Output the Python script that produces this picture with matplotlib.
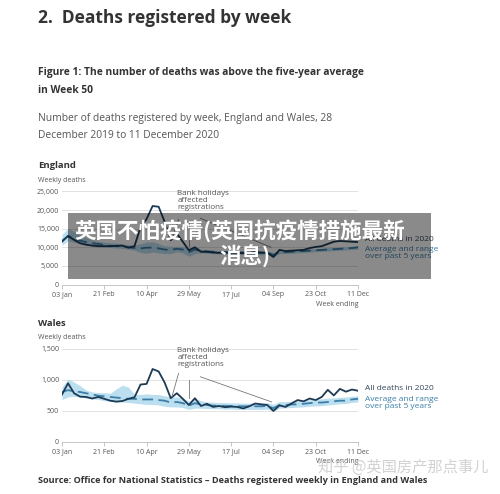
import matplotlib
matplotlib.use("Agg")
import matplotlib.pyplot as plt
import matplotlib.patches as patches

# --- Dados (semanas 1..50 de 2020) ---
weeks = list(range(1, 51))
tick_weeks = [1, 8, 15, 22, 29, 36, 43, 50]
tick_labels = ["03 Jan", "21 Feb", "10 Apr", "29 May", "17 Jul", "04 Sep", "23 Oct", "11 Dec"]

eng_2020 = [11500, 13100, 12000, 11100, 10700, 10450, 10300, 10300, 10300, 10400,
            10450, 9900, 10300, 15400, 17600, 21100, 20900, 16800, 11900, 13700,
            11500, 9200, 10000, 8800, 8800, 8600, 8500, 8600, 8500, 8500,
            8400, 8500, 8700, 8600, 8500, 7400, 9300, 9000, 9100, 9200,
            9300, 9800, 10100, 10300, 10900, 11500, 11700, 11600, 11500, 11400]
eng_avg = [11800, 12900, 12300, 11800, 11400, 11100, 10900, 10600, 10400, 10300,
           10200, 10000, 9800, 9700, 9900, 9900, 9700, 9400, 9300, 9600,
           9400, 8700, 9400, 9000, 8900, 8800, 8700, 8700, 8600, 8600,
           8600, 8500, 8600, 8500, 8600, 7900, 8800, 8700, 8800, 8900,
           9000, 9100, 9200, 9300, 9400, 9500, 9600, 9700, 9800, 10000]
eng_min = [10500, 11800, 11300, 11000, 10700, 10400, 10200, 10000, 9900, 9800,
           9700, 9500, 9200, 8600, 8400, 8700, 8500, 8300, 8300, 8800,
           8500, 7600, 8300, 8500, 8400, 8300, 8200, 8200, 8100, 8100,
           8100, 8000, 8100, 8000, 8100, 7400, 8300, 8300, 8400, 8500,
           8600, 8700, 8800, 8900, 9000, 9100, 9200, 9300, 9400, 9500]
eng_max = [13500, 15000, 14300, 13300, 12600, 12000, 11600, 11400, 11200, 11100,
           10900, 10700, 10600, 11000, 11400, 11500, 11000, 10400, 10300, 10300,
           10200, 9800, 10200, 9500, 9300, 9200, 9100, 9100, 9000, 9000,
           9000, 8900, 9000, 8900, 9000, 8600, 9300, 9200, 9300, 9400,
           9500, 9600, 9700, 9800, 9900, 10000, 10100, 10200, 10300, 10500]

wal_2020 = [760, 940, 780, 725, 720, 695, 720, 690, 660, 645,
            655, 690, 715, 920, 930, 1170, 1130, 950, 700, 780,
            690, 590, 700, 575, 610, 560, 575, 555, 565, 560,
            535, 570, 615, 600, 590, 495, 585, 560, 615, 670,
            650, 695, 670, 720, 835, 745, 850, 805, 840, 820]
wal_avg = [800, 830, 810, 800, 780, 760, 740, 730, 720, 710,
           700, 690, 690, 680, 680, 680, 670, 660, 630, 640,
           620, 580, 620, 600, 590, 580, 580, 575, 575, 570,
           570, 570, 570, 570, 575, 540, 590, 590, 600, 600,
           610, 620, 630, 630, 640, 650, 660, 660, 680, 690]
wal_min = [680, 720, 730, 720, 700, 690, 680, 660, 650, 640,
           640, 630, 620, 610, 600, 600, 590, 570, 560, 560,
           550, 520, 540, 540, 535, 530, 530, 525, 525, 520,
           520, 520, 520, 520, 525, 490, 540, 545, 550, 555,
           560, 570, 575, 580, 590, 600, 610, 615, 630, 640]
wal_max = [880, 1010, 960, 900, 830, 800, 790, 790, 780, 850,
           910, 880, 760, 760, 770, 760, 760, 740, 720, 720,
           700, 650, 700, 660, 640, 635, 630, 630, 625, 625,
           620, 620, 625, 625, 630, 600, 645, 645, 650, 655,
           665, 675, 685, 690, 700, 705, 715, 720, 730, 740]

# --- Estilo ---
FONT = "Open Sans"
C_LINE = "#1d3a55"
C_AVG = "#3b7fa8"
C_BAND = "#b5dcef"
C_TXT = "#555555"
C_DARK = "#333333"

plt.rcParams['font.family'] = [FONT, 'Noto Sans CJK SC', 'DejaVu Sans']

W, H = 500, 494
fig = plt.figure(figsize=(W / 100, H / 100), dpi=100)


def fx(x):
    return x / W


def fy(y):
    return 1 - y / H


def draw_panel(ax, s2020, avg, lo, hi, ymax, ystep, note_top, arrows):
    ax.fill_between(weeks, lo, hi, color=C_BAND, lw=0, alpha=0.9, zorder=1)
    ax.plot(weeks, avg, color=C_AVG, lw=1.3, dashes=(6, 3), zorder=2)
    ax.plot(weeks, s2020, color=C_LINE, lw=1.3, zorder=3)
    ax.set_xlim(1, 50)
    ax.set_ylim(0, ymax)
    yt = list(range(0, ymax + 1, ystep))
    ax.set_yticks(yt)
    ax.set_yticklabels([f"{v:,}" for v in yt])
    ax.set_xticks(tick_weeks)
    ax.set_xticklabels(tick_labels)
    ax.grid(axis='y', color='#dddddd', lw=0.6)
    ax.set_axisbelow(True)
    for s in ['top', 'right', 'left']:
        ax.spines[s].set_visible(False)
    ax.spines['bottom'].set_color('#bbbbbb')
    ax.spines['bottom'].set_linewidth(0.6)
    ax.tick_params(axis='y', length=0, labelsize=5, labelcolor=C_TXT, pad=2)
    ax.tick_params(axis='x', length=3, width=0.6, color='#bbbbbb',
                   labelsize=5, labelcolor=C_TXT, pad=2)
    ax.text(20.1, note_top, "Bank holidays\naffected\nregistrations", fontsize=5.8,
            color=C_TXT, va='top', ha='left', linespacing=0.95)
    for (x0, y0), (x1, y1) in arrows:
        ax.plot([x0, x1], [y0, y1], color='#777777', lw=0.6, zorder=4)


# Inglaterra
ax1 = fig.add_axes([fx(62), fy(284.5), 296 / W, 93 / H])
draw_panel(ax1, eng_2020, eng_avg, eng_min, eng_max, 25000, 5000, 25300,
           [((20.3, 17500), (19.3, 12700)),
            ((22.1, 16500), (22.1, 10300)),
            ((23.9, 17800), (35.6, 10000))])

# País de Gales
ax2 = fig.add_axes([fx(62), fy(441.7), 296 / W, 93.2 / H])
draw_panel(ax2, wal_2020, wal_avg, wal_min, wal_max, 1500, 500, 1520,
           [((20.3, 1100), (19.2, 725)),
            ((22.1, 990), (22.1, 700)),
            ((23.9, 1045), (35.7, 640))])

# --- Textos ---
fig.text(fx(38), fy(18), "2.  Deaths registered by week", fontsize=12.5, weight='bold',
         color=C_DARK, va='center')
fig.text(fx(38), fy(72), "Figure 1: The number of deaths was above the five-year average",
         fontsize=7.4, weight='bold', color=C_DARK, va='center')
fig.text(fx(38), fy(90), "in Week 50", fontsize=7.4, weight='bold', color=C_DARK, va='center')
fig.text(fx(38), fy(118), "Number of deaths registered by week, England and Wales, 28",
         fontsize=7.4, color=C_TXT, va='center')
fig.text(fx(38), fy(136), "December 2019 to 11 December 2020",
         fontsize=7.4, color=C_TXT, va='center')

for name, y_name, y_unit, y_week, y_all, y_avg in [
        ("England", 166, 180.5, 304, 239, 253),
        ("Wales", 323, 337.5, 461.5, 388, 403)]:
    fig.text(fx(38), fy(y_name), name, fontsize=6.8, weight='bold', color=C_DARK, va='center')
    fig.text(fx(38), fy(y_unit), "Weekly deaths", fontsize=5, color=C_TXT, va='center')
    fig.text(fx(358), fy(y_week), "Week ending", fontsize=5, color=C_TXT,
             va='center', ha='right')
    fig.text(fx(365), fy(y_all), "All deaths in 2020", fontsize=6, color='#34495c', va='center')
    fig.text(fx(365), fy(y_avg), "Average and range\nover past 5 years", fontsize=6,
             color=C_AVG, va='center', linespacing=0.95)

fig.text(fx(38), fy(480),
         "Source: Office for National Statistics \u2013 Deaths registered weekly in England and Wales",
         fontsize=6.6, weight='bold', color=C_DARK, va='center')

# marca d'agua
fig.text(fx(318), fy(467), "知乎 @英国房产那点事儿", fontsize=11,
         family=['Noto Sans CJK SC', 'DejaVu Sans'], color='#d2d2d2', va='center', zorder=9)

# faixa cinza por cima
banner = patches.Rectangle((fx(68.3), fy(279)), (430.7 - 68.3) / W, (279 - 213.3) / H,
                           transform=fig.transFigure, facecolor='black', alpha=0.46,
                           edgecolor='none', zorder=10)
fig.add_artist(banner)
cjk = ['Noto Sans CJK SC', 'DejaVu Sans']
fig.text(fx(240), fy(231), "英国不怕疫情(英国抗疫情措施最新", fontsize=15.5, weight='bold',
         family=cjk, color='white', ha='center', va='center', zorder=11)
fig.text(fx(245), fy(256), "消息)", fontsize=15.5, weight='bold',
         family=cjk, color='white', ha='center', va='center', zorder=11)

fig.savefig("out.png", dpi=100)
